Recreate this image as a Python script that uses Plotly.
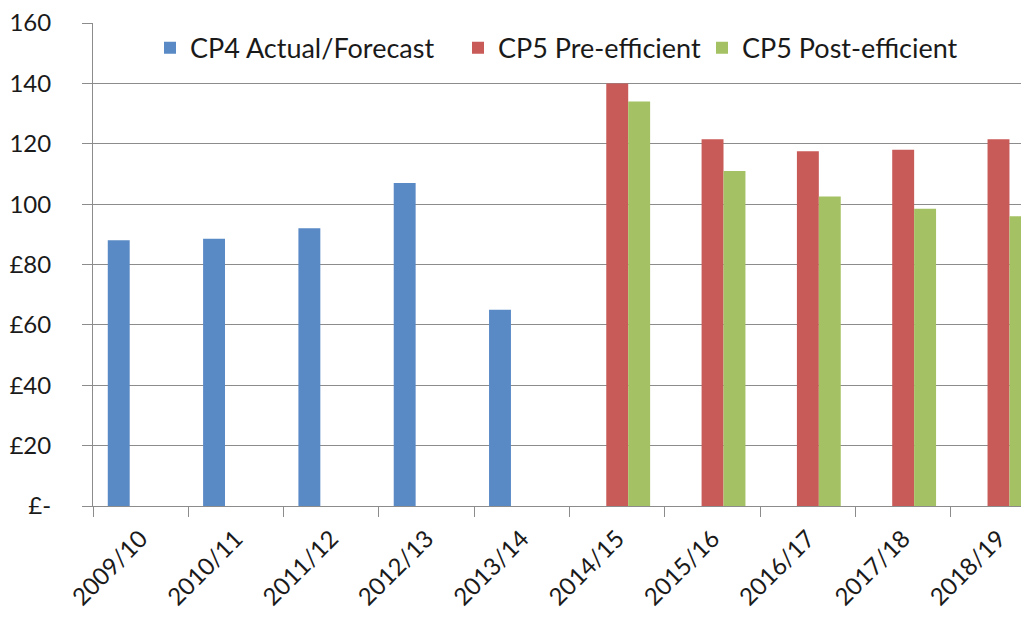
import plotly.graph_objects as go

categories = ["2009/10", "2010/11", "2011/12", "2012/13", "2013/14",
              "2014/15", "2015/16", "2016/17", "2017/18", "2018/19"]
cp4_actual = [88, 88.5, 92, 107, 65, None, None, None, None, None]
cp5_pre = [None, None, None, None, None, 140, 121.5, 117.5, 118, 121.5]
cp5_post = [None, None, None, None, None, 134, 111, 102.5, 98.5, 96]
ytick_vals = [0, 20, 40, 60, 80, 100, 120, 140, 160]
ytick_text = ["£-", "£20", "£40", "£60", "£80", "100", "120", "140", "160"]

FONT = "Lato"
GRID = "#8c8c8c"

fig = go.Figure()
fig.add_trace(go.Bar(name="CP4 Actual/Forecast", x=categories, y=cp4_actual,
                     marker=dict(color="#5A8AC6", line=dict(width=0)), legend="legend"))
fig.add_trace(go.Bar(name="CP5 Pre-efficient", x=categories, y=cp5_pre,
                     marker=dict(color="#C85A57", line=dict(width=0)), legend="legend2"))
fig.add_trace(go.Bar(name="CP5 Post-efficient", x=categories, y=cp5_post,
                     marker=dict(color="#A4C263", line=dict(width=0)), legend="legend3"))

leg_common = dict(orientation="h", yanchor="middle", y=0.948, xanchor="left",
                  bgcolor="rgba(0,0,0,0)", font=dict(family=FONT, size=27, color="#1a1a1a"),
                  borderwidth=0)

fig.update_layout(
    width=1029, height=618,
    margin=dict(l=85, r=8, t=15, b=120, autoexpand=False),
    paper_bgcolor="white", plot_bgcolor="white",
    barmode="group", bargap=0.31, bargroupgap=0,
    font=dict(family=FONT, size=24, color="#1a1a1a"),
    showlegend=True,
    legend=dict(x=(150 - 93) / 936, **leg_common),
    legend2=dict(x=(458 - 93) / 936, **leg_common),
    legend3=dict(x=(702 - 93) / 936, **leg_common),
    xaxis=dict(type="category", range=[-0.5, 9.32], tickson="boundaries",
               ticks="outside", ticklen=10, tickcolor=GRID, showline=True,
               linecolor=GRID, linewidth=1, showgrid=False, tickangle=-45,
               automargin=False, ticklabelstandoff=8, ticklabeloverflow="allow",
               tickfont=dict(family=FONT, size=24)),
    yaxis=dict(range=[0, 160], tickvals=ytick_vals, ticktext=ytick_text,
               ticks="outside", ticklen=10, tickcolor=GRID, showline=True,
               linecolor=GRID, linewidth=1, showgrid=True, gridcolor=GRID,
               gridwidth=1, zeroline=False, automargin=False, ticklabelstandoff=26,
               ticklabeloverflow="allow",
               tickfont=dict(family=FONT, size=24)),
)

fig.write_html("out.html")
